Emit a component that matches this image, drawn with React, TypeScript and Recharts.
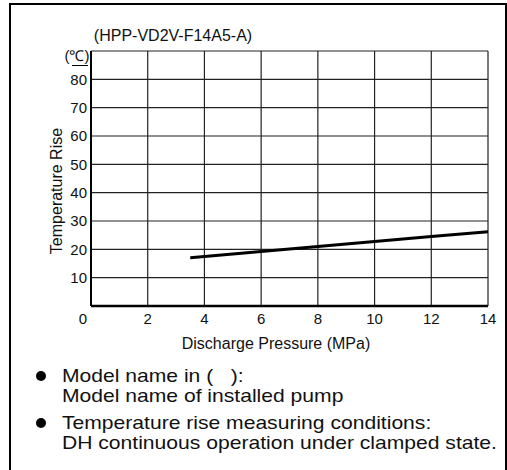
import { LineChart, Line, XAxis, YAxis, CartesianGrid } from 'recharts';

// Temperature rise curve vs discharge pressure
const pressure = [3.5, 6, 8, 10, 12, 14];
const tempRise = [17, 19.2, 21, 22.8, 24.5, 26.2];

const xTicks = [0, 2, 4, 6, 8, 10, 12, 14];
const yTicks = [0, 10, 20, 30, 40, 50, 60, 70, 80, 90];

const modelName = '(HPP-VD2V-F14A5-A)';
const notes = [
  ['Model name in (   ):', 'Model name of installed pump'],
  ['Temperature rise measuring conditions:', 'DH continuous operation under clamped state.'],
];

const data = pressure.map((p, i) => ({ p, t: tempRise[i] }));

const FONT = '"Liberation Sans", Arial, Helvetica, sans-serif';

// "0" sits left of the origin, shared by both axes
const XTick = (props: any) => {
  const { x, y, payload } = props;
  const dx = payload.value === 0 ? -8 : 0;
  return (
    <text x={x + dx} y={y} dy="0.71em" textAnchor="middle" fontSize={15} fontFamily={FONT} fill="#111">
      {payload.value}
    </text>
  );
};

const YTick = (props: any) => {
  const { x, y, payload } = props;
  if (payload.value === 0 || payload.value === 90) return null;
  return (
    <text x={x} y={y} dy="0.355em" textAnchor="end" fontSize={15} fontFamily={FONT} fill="#111">
      {payload.value}
    </text>
  );
};

const abs = (style: any) => ({ position: 'absolute' as const, fontFamily: FONT, color: '#111', whiteSpace: 'pre' as const, ...style });

export default function App() {
  return (
    <div style={{ position: 'absolute', left: 0, top: 0, width: 507, height: 470, background: '#fff', overflow: 'hidden' }}>
      <div style={{ position: 'absolute', left: 9, top: 3, width: 494, height: 480, border: '2px solid #000' }} />

      <LineChart
        width={507}
        height={470}
        data={data}
        margin={{ top: 51, right: 19, left: 31, bottom: 134 }}
        style={{ position: 'absolute', left: 0, top: 0 }}
      >
        <CartesianGrid stroke="#222" strokeWidth={1.2} />
        <XAxis
          type="number"
          dataKey="p"
          domain={[0, 14]}
          ticks={xTicks}
          height={30}
          tickSize={0}
          tickMargin={7}
          tick={<XTick />}
          axisLine={{ stroke: '#000', strokeWidth: 2.5 }}
          tickLine={false}
        />
        <YAxis
          type="number"
          domain={[0, 90]}
          ticks={yTicks}
          width={60}
          tickSize={0}
          tickMargin={4}
          tick={<YTick />}
          axisLine={{ stroke: '#000', strokeWidth: 2 }}
          tickLine={false}
        />
        <Line
          type="linear"
          dataKey="t"
          stroke="#000"
          strokeWidth={3}
          dot={false}
          isAnimationActive={false}
        />
      </LineChart>

      <div style={abs({ left: 173, top: 36, fontSize: 16, transform: 'translate(-50%, -50%)' })}>{modelName}</div>
      <div style={abs({ left: 77, top: 55, fontSize: 15, transform: 'translate(-50%, -50%)' })}>(℃)</div>
      <div style={{ position: 'absolute', left: 72, top: 65, width: 16, height: 0, borderTop: '1.5px solid #000' }} />

      <div style={abs({ left: 57, top: 191, fontSize: 16, transform: 'translate(-50%, -50%) rotate(-90deg)' })}>
        Temperature Rise
      </div>
      <div style={abs({ left: 276, top: 344, fontSize: 16, transform: 'translate(-50%, -50%)' })}>
        Discharge Pressure (MPa)
      </div>

      {notes.map((lines, i) => (
        <div key={i} style={{ position: 'absolute', left: 15, top: 366 + i * 47 }}>
          <div style={{ position: 'absolute', left: 21, top: 5, width: 10, height: 10, borderRadius: '50%', background: '#000' }} />
          <div style={abs({ left: 47, top: 0, fontSize: 19, lineHeight: '20px', transform: 'scaleX(1.11)', transformOrigin: 'left top' })}>
            {lines[0]}
            <br />
            {lines[1]}
          </div>
        </div>
      ))}
    </div>
  );
}
